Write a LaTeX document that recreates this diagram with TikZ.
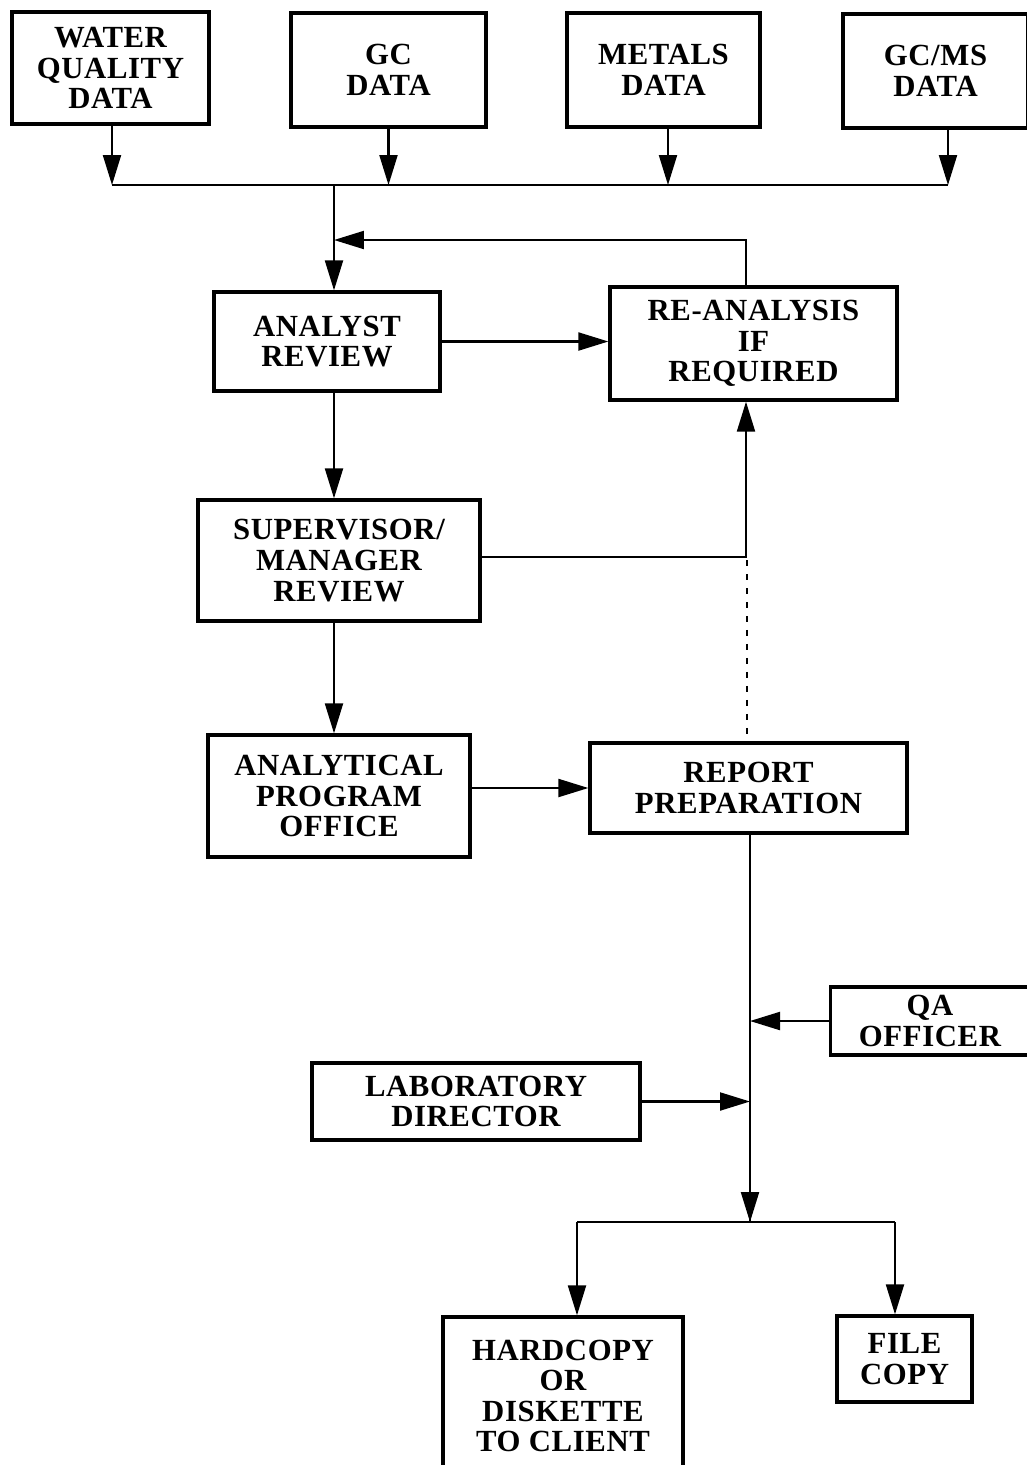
\documentclass[tikz,border=0pt]{standalone}
\usepackage{fontspec}
\setmainfont{Liberation Serif}[LetterSpace=2]
\usepackage{tikz}
\usetikzlibrary{arrows.meta,positioning}

\begin{document}
\begin{tikzpicture}[
    x=0.02cm, y=-0.02cm,
    box/.style={rectangle, draw, line width=1.9pt, align=center, inner sep=2pt,
        font=\fontsize{17.5}{17.4}\selectfont\bfseries},
    arrow/.style={-{Triangle[length=0.6cm, width=0.36cm]}, line width=1.2pt},
    line/.style={line width=1.2pt},
    dots/.style={line width=1.2pt, dash pattern=on 0.12cm off 0.16cm}
]
\useasboundingbox (0,0) rectangle (1027,1465);
\clip (0,0) rectangle (1027,1465);

% Data sources
\node[box, minimum width=3.94cm, minimum height=2.24cm] (water) at (110.5,68) {WATER\\QUALITY\\DATA};
\node[box, minimum width=3.9cm, minimum height=2.28cm] (gcdata) at (388.5,70) {GC\\DATA};
\node[box, minimum width=3.86cm, minimum height=2.28cm] (metals) at (663.5,70) {METALS\\DATA};
\node[box, minimum width=3.7cm, minimum height=2.28cm] (gcms) at (935.5,71) {GC/MS\\DATA};

% Review chain
\node[box, minimum width=4.52cm, minimum height=1.98cm] (analyst) at (327,341.5) {ANALYST\\REVIEW};
\node[box, minimum width=5.74cm, minimum height=2.26cm] (reanalysis) at (753.5,343.5) {RE-ANALYSIS\\IF\\REQUIRED};
\node[box, minimum width=5.64cm, minimum height=2.42cm] (supervisor) at (339,560.5) {SUPERVISOR/\\MANAGER\\REVIEW};
\node[box, minimum width=5.24cm, minimum height=2.44cm] (apo) at (339,796) {ANALYTICAL\\PROGRAM\\OFFICE};
\node[box, minimum width=6.34cm, minimum height=1.8cm] (report) at (748.5,788) {REPORT\\PREPARATION};

% Sign-off
\node[box, minimum width=3.98cm, minimum height=1.36cm] (qa) at (930,1021) {QA\\OFFICER};
\node[box, minimum width=6.56cm, minimum height=1.54cm] (labdir) at (476,1101.5) {LABORATORY\\DIRECTOR};

% Distribution
\node[box, minimum width=4.8cm, minimum height=3.16cm] (hardcopy) at (563,1396) {HARDCOPY\\OR\\DISKETTE\\TO CLIENT};
\node[box, minimum width=2.7cm, minimum height=1.72cm] (filecopy) at (904.5,1359) {FILE\\COPY};

\coordinate (busL) at (112,185);
\coordinate (busR) at (948,185);
\coordinate (join) at (334,185);
\coordinate (back) at (746,240);
\coordinate (split) at (750,1222);
\coordinate (splitL) at (577,1222);
\coordinate (splitR) at (895,1222);

% Collect data
\draw[line] (busL) -- (busR);
\draw[arrow] (water.south -| busL) -- (busL);
\draw[arrow] (gcdata.south) -- (gcdata.south |- busL);
\draw[arrow] (metals.south -| 668,0) -- (668,185);
\draw[arrow] (gcms.south -| busR) -- (busR);
\draw[arrow] (join) -- (join |- analyst.north);

% Review loop
\draw[arrow] (analyst) -- (analyst -| reanalysis.west);
\draw[arrow] (reanalysis.north -| back) |- (join |- back);
\draw[arrow] (analyst.south -| join) -- (join |- supervisor.north);
\draw[arrow] (supervisor.east |- 0,557) -| (reanalysis.south -| back);
\draw[dots] (747,560) -- (report.north -| 747,0);
\draw[arrow] (supervisor.south -| join) -- (join |- apo.north);
\draw[arrow] (apo.east |- report) -- (report.west);

% Report to distribution
\draw[line] (report.south -| split) -- (split);
\draw[arrow] (split |- 0,1150) -- (split);
\draw[arrow] (qa.west) -- (qa.west -| split);
\draw[arrow] (labdir.east) -- (labdir.east -| split);
\draw[line] (splitL) -- (splitR);
\draw[arrow] (splitL) -- (splitL |- hardcopy.north);
\draw[arrow] (splitR) -- (splitR |- filecopy.north);

\end{tikzpicture}
\end{document}
